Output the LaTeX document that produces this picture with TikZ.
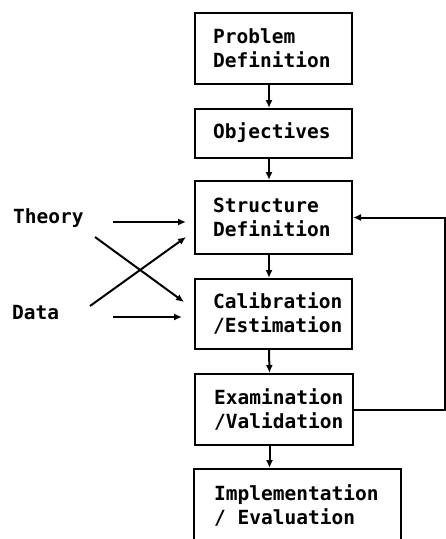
\documentclass[tikz,border=0pt]{standalone}
\usepackage{fontspec}
\setmonofont{DejaVu Sans Mono}
\usetikzlibrary{arrows.meta}
\begin{document}
\begin{tikzpicture}[x=1pt,y=-1pt,
  box/.style={draw, line width=2pt, rectangle, inner sep=0pt, anchor=north west},
  lbl/.style={font=\ttfamily\bfseries\fontsize{19.5}{24}\selectfont, align=left, anchor=west, inner sep=0pt},
  arr/.style={line width=2pt, -{Latex[length=8pt,width=7pt]}},
  ln/.style={line width=2pt}]
\clip (0,0) rectangle (446,539);
% boxes
\node[box, minimum width=157pt, minimum height=71pt] (pd) at (194,12) {};
\node[box, minimum width=157pt, minimum height=49pt] (ob) at (194,108) {};
\node[box, minimum width=157pt, minimum height=73pt] (sd) at (194,180) {};
\node[box, minimum width=157pt, minimum height=70pt] (ce) at (194,278) {};
\node[box, minimum width=158pt, minimum height=71pt] (ev) at (194,373) {};
\node[box, minimum width=207pt, minimum height=90pt] (ie) at (193,468) {};
% box texts
\node[lbl] (pdt) at (213,48) {Problem\\Definition};
\node[lbl] (obt) at (213,133) {Objectives};
\node[lbl] (sdt) at (213,217) {Structure\\Definition};
\node[lbl] (cet) at (213,313) {Calibration\\/Estimation};
\node[lbl] (evt) at (214,409) {Examination\\/Validation};
\node[lbl] (iet) at (214,505) {Implementation\\/ Evaluation};
% left labels
\node[lbl] (th) at (13,218) {Theory};
\node[lbl] (da) at (12,313) {Data};
% vertical arrows
\draw[arr] ([xshift=-4.5pt]pd.south) -- ([xshift=-4.5pt]ob.north);
\draw[arr] ([xshift=-4.5pt]ob.south) -- ([xshift=-4.5pt]sd.north);
\draw[arr] ([xshift=-4.5pt]sd.south) -- ([xshift=-4.5pt]ce.north);
\draw[arr] ([xshift=-4.5pt]ce.south) -- ([xshift=-4.5pt]ev.north);
\draw[arr] ([xshift=-4.5pt]ev.south) -- ([xshift=-4.5pt]ev.south |- ie.north);
% feedback
\draw[arr] (ev.east) -- ++(91,0) |- (sd.east);
% inputs
\coordinate (t1) at (113,222);
\coordinate (t2) at (186,222);
\coordinate (d1) at (113,317);
\coordinate (d2) at (182,317);
\coordinate (x1) at (95,237);
\coordinate (x2) at (184,302);
\coordinate (y1) at (90,306);
\coordinate (y2) at (186,237);
\draw[arr] (t1) -- (t2);
\draw[arr] (d1) -- (d2);
\draw[arr] (x1) -- (x2);
\draw[arr] (y1) -- (y2);
\end{tikzpicture}
\end{document}
